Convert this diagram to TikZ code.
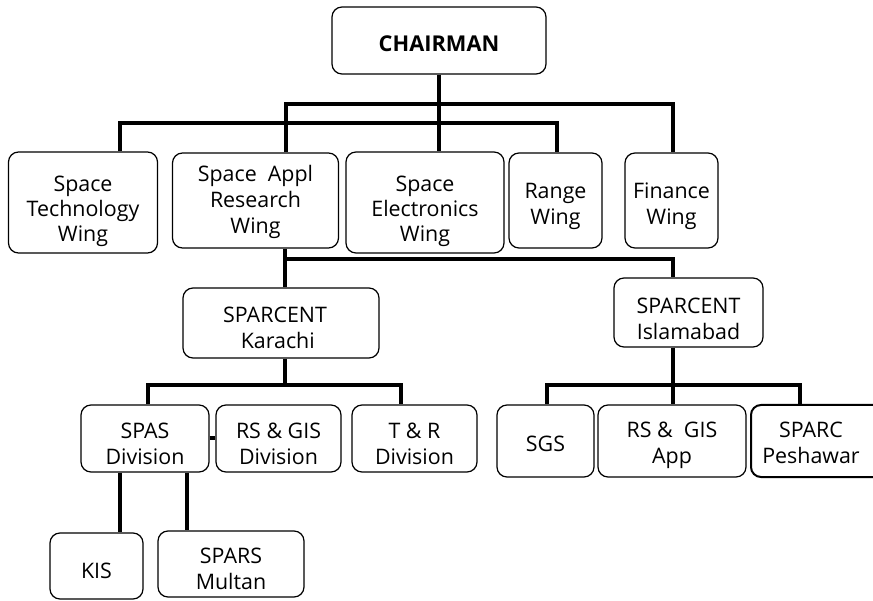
\documentclass[tikz,border=0pt]{standalone}
\usepackage{fontspec}
\setmainfont{Open Sans}
% text block whose first baseline lies #1 below the box centre
\newcommand\tb[2]{\raisebox{-#1}[0pt][0pt]{\begin{tabular}[t]{@{}c@{}}#2\end{tabular}}}
\begin{document}
\begin{tikzpicture}[x=1pt,y=-1pt,
  box/.style={draw, rounded corners=10pt, line width=1.2pt, align=center, inner sep=0pt,
    font=\fontsize{21.4}{26}\selectfont},
  conn/.style={line width=4pt, line join=miter}]
\useasboundingbox (0,0) rectangle (873,601);
% boxes
\node[box, minimum width=214pt, minimum height=67pt, font=\fontsize{21.8}{26}\selectfont\bfseries] (ch) at (439,40.5) {\tb{11.5pt}{CHAIRMAN}};
\node[box, minimum width=149pt, minimum height=101pt, font=\fontsize{21.4}{25}\selectfont] (stw) at (83,202.5) {\tb{-10.5pt}{Space\\Technology\\Wing}};
\node[box, minimum width=166pt, minimum height=95pt] (sarw) at (255.5,200.5) {\tb{-18.5pt}{Space\ \ Appl\\Research\\Wing}};
\node[box, minimum width=158pt, minimum height=101pt, font=\fontsize{21.4}{25}\selectfont] (sew) at (425,202.5) {\tb{-10.5pt}{Space\\Electronics\\Wing}};
\node[box, minimum width=93pt, minimum height=95pt] (rw) at (555.5,200.5) {\tb{-2.2pt}{Range\\Wing}};
\node[box, minimum width=93pt, minimum height=95pt] (fw) at (671.5,200.5) {\tb{-2.2pt}{Finance\\Wing}};
\node[box, minimum width=196pt, minimum height=70pt] (kar) at (281,323) {\tb{0pt}{SPARCENT\\\ Karachi}\hspace{12pt}};
\node[box, minimum width=149pt, minimum height=69pt] (isl) at (688.5,312.5) {\tb{1pt}{SPARCENT\\Islamabad}};
\node[box, minimum width=128pt, minimum height=67pt] (spas) at (145,438.5) {\tb{0.5pt}{SPAS\\Division}};
\node[box, minimum width=125pt, minimum height=67pt] (rsd) at (278.5,438.5) {\tb{0.5pt}{RS \& GIS\\Division}};
\node[box, minimum width=125pt, minimum height=67pt] (trd) at (414.5,438.5) {\tb{0.5pt}{T \& R\\Division}};
\node[box, minimum width=97pt, minimum height=72pt] (sgs) at (545.5,441) {\tb{11pt}{SGS}};
\node[box, minimum width=148pt, minimum height=72pt] (rsa) at (672,441) {\tb{-3pt}{RS \&\ \ GIS\\App}};
\begin{scope}
\clip (0,0) rectangle (873,601);
\node[box, line width=2pt, minimum width=140pt, minimum height=72pt] (pes) at (821,441)
  {\tb{-3pt}{SPARC\\Peshawar}\hspace{20pt}};
\end{scope}
\node[box, minimum width=93pt, minimum height=66pt] (kis) at (96.5,566) {\tb{12pt}{KIS}};
\node[box, minimum width=146pt, minimum height=66pt] (spars) at (231,564) {\tb{-0.7pt}{SPARS\\Multan}};
% junction coordinates
\coordinate (a1) at (286,104); \coordinate (a2) at (673,104);
\coordinate (b1) at (120,123); \coordinate (b2) at (557,123);
\coordinate (c1) at (285,259); \coordinate (c2) at (673,259);
\coordinate (d0) at (285,385); \coordinate (d1) at (148,385); \coordinate (d2) at (401,385);
\coordinate (e0) at (673,385); \coordinate (e1) at (547,385); \coordinate (e2) at (800,385);
\coordinate (k1) at (120,500); \coordinate (k2) at (187,500);
% connectors
\draw[conn] (ch.south) -- (ch.south |- sew.north);
\draw[conn] (sarw.north -| a1) -- (a1) -- (a2) -- (fw.north -| a2);
\draw[conn] (stw.north -| b1) -- (b1) -- (b2) -- (rw.north -| b2);
\draw[conn] (sarw.south -| c1) -- (c1) -- (c2) -- (isl.north -| c2);
\draw[conn] (c1) -- (kar.north -| c1);
\draw[conn] (kar.south -| d0) -- (d0);
\draw[conn] (spas.north -| d1) -- (d1) -- (d2) -- (trd.north -| d2);
\draw[conn] (spas.east) -- (rsd.west);
\draw[conn] (spas.south -| k1) -- (kis.north -| k1);
\draw[conn] (spas.south -| k2) -- (spars.north -| k2);
\draw[conn] (isl.south -| e0) -- (e0);
\draw[conn] (sgs.north -| e1) -- (e1) -- (e2) -- (pes.north -| e2);
\draw[conn] (e0) -- (rsa.north -| e0);
\end{tikzpicture}
\end{document}
